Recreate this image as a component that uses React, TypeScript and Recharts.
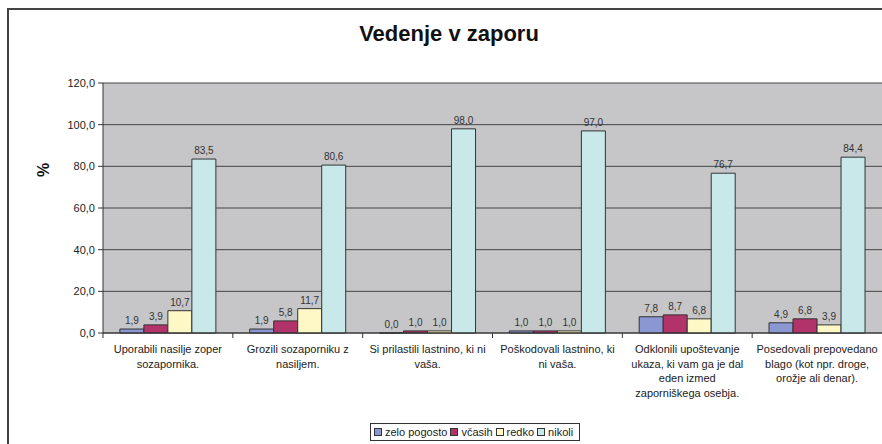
import React from 'react';
import { BarChart, Bar, XAxis, YAxis, CartesianGrid, LabelList, Legend, Label } from 'recharts';

const categories = [
  'Uporabili nasilje zoper\nsozapornika.',
  'Grozili sozaporniku z\nnasiljem.',
  'Si prilastili lastnino, ki ni\nvaša.',
  'Poškodovali lastnino, ki\nni vaša.',
  'Odklonili upoštevanje\nukaza, ki vam ga je dal\neden izmed\nzaporniškega osebja.',
  'Posedovali prepovedano\nblago (kot npr. droge,\norožje ali denar).',
];

const zeloPogosto = [1.9, 1.9, 0.0, 1.0, 7.8, 4.9];
const vcasih = [3.9, 5.8, 1.0, 1.0, 8.7, 6.8];
const redko = [10.7, 11.7, 1.0, 1.0, 6.8, 3.9];
const nikoli = [83.5, 80.6, 98.0, 97.0, 76.7, 84.4];

const yTicks = [0, 20, 40, 60, 80, 100, 120];

const series = [
  { key: 'zelo', name: 'zelo pogosto', color: '#8A97D2' },
  { key: 'vcasih', name: 'včasih', color: '#B1336A' },
  { key: 'redko', name: 'redko', color: '#FDF8C6' },
  { key: 'nikoli', name: 'nikoli', color: '#C8E8EA' },
];

const data = categories.map((c, i) => ({
  cat: c,
  zelo: zeloPogosto[i],
  vcasih: vcasih[i],
  redko: redko[i],
  nikoli: nikoli[i],
}));

const FONT = '"Liberation Sans", Arial, sans-serif';
const fmt = (v: number) => v.toFixed(1).replace('.', ',');

const CategoryTick = (props: any) => {
  const { x, y, payload } = props;
  const lines = String(payload.value).split('\n');
  const half = payload.offset || 0;
  return (
    <g>
      <line x1={x - half} y1={y - 8} x2={x - half} y2={y - 3} stroke="#333" />
      <text x={x} y={y + 12} textAnchor="middle" fontSize={11} fill="#222" fontFamily={FONT}>
        {lines.map((l: string, i: number) => (
          <tspan key={i} x={x} dy={i === 0 ? 0 : 14.5}>{l}</tspan>
        ))}
      </text>
    </g>
  );
};

// value labels, drawn also for zero-height bars
const ValueLabel = (props: any) => {
  const { x, y, width, value } = props;
  if (value === undefined || value === null) return null;
  return (
    <text x={x + width / 2} y={y - 5} textAnchor="middle" fontSize={10} fill="#333" fontFamily={FONT}>
      {fmt(Number(value))}
    </text>
  );
};

const LegendBox = () => (
  <div
    style={{
      border: '1px solid #333',
      background: '#fff',
      display: 'flex',
      alignItems: 'center',
      padding: '2px 3px',
      fontFamily: FONT,
      fontSize: 11,
      color: '#222',
      whiteSpace: 'nowrap',
      height: 18,
      boxSizing: 'border-box',
    }}
  >
    {series.map((s) => (
      <span key={s.key} style={{ display: 'inline-flex', alignItems: 'center', marginRight: 3 }}>
        <span style={{ width: 6, height: 6, background: s.color, border: '1px solid #333', marginRight: 3, display: 'inline-block' }} />
        {s.name}
      </span>
    ))}
  </div>
);

export default function App() {
  return (
    <div style={{ position: 'absolute', left: 0, top: 0, width: 882, height: 444, overflow: 'hidden', background: '#fff' }}>
      <div style={{ position: 'absolute', left: 7, top: 8, width: 900, height: 460, border: '2px solid #444', boxSizing: 'border-box' }} />
      <div
        style={{
          position: 'absolute',
          left: 0,
          top: 21,
          width: 898,
          textAlign: 'center',
          fontFamily: FONT,
          fontWeight: 'bold',
          fontSize: 22,
          color: '#111',
        }}
      >
        Vedenje v zaporu
      </div>
      <div style={{ position: 'absolute', left: 0, top: 0 }}>
        <BarChart
          width={882}
          height={444}
          data={data}
          margin={{ top: 83, right: 0, left: 3, bottom: 11 }}
          barCategoryGap="13%"
          barGap={0}
        >
          <CartesianGrid vertical={false} stroke="#444" fill="#C6C6C8" fillOpacity={1} />
          <XAxis
            dataKey="cat"
            interval={0}
            height={100}
            tickLine={false}
            axisLine={{ stroke: '#333' }}
            tick={<CategoryTick />}
          />
          <YAxis
            width={100}
            domain={[0, 120]}
            ticks={yTicks}
            tickFormatter={fmt}
            tickSize={5}
            tickMargin={3}
            axisLine={{ stroke: '#333' }}
            tickLine={{ stroke: '#333' }}
            tick={{ fontSize: 11, fill: '#222', fontFamily: FONT }}
          >
            <Label
              value="%"
              angle={-90}
              position="insideLeft"
              dx={35}
              dy={-31}
              style={{ fontSize: 16, fontWeight: 'bold', fill: '#111', fontFamily: FONT }}
            />
          </YAxis>
          <Legend
            verticalAlign="middle"
            align="center"
            layout="horizontal"
            wrapperStyle={{ top: 423, left: 370, width: 'auto' }}
            content={<LegendBox />}
          />
          {series.map((s) => (
            <Bar
              key={s.key}
              dataKey={s.key}
              name={s.name}
              fill={s.color}
              stroke="#333"
              strokeWidth={1}
              minPointSize={(v: any) => (Number(v) === 0 ? 0.01 : 0)}
              isAnimationActive={false}
            >
              <LabelList dataKey={s.key} content={<ValueLabel />} />
            </Bar>
          ))}
        </BarChart>
      </div>
    </div>
  );
}
